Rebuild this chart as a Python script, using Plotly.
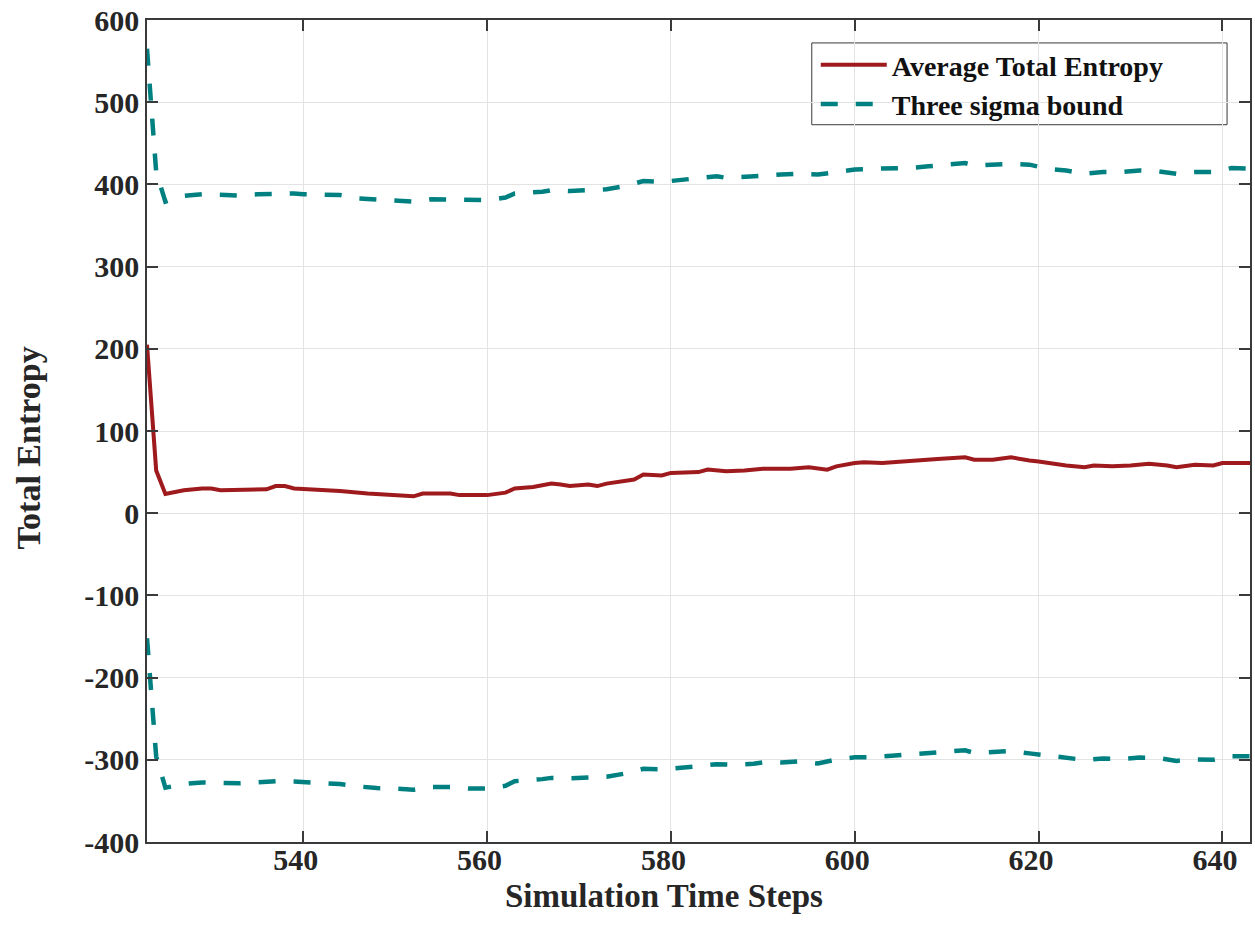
import plotly.graph_objects as go

# Average Total Entropy
mean_x = [523, 524, 525, 527, 529, 530, 531, 533, 536, 537, 538, 539, 541, 544, 547, 550, 552, 553, 556, 557,
          560, 562, 563, 565, 567, 568, 569, 571, 572, 573, 576, 577, 579, 580, 583, 584, 586, 588, 590, 593,
          595, 597, 598, 600, 601, 603, 605, 606, 607, 609, 612, 613, 615, 617, 619, 620, 623, 625, 626, 628,
          630, 632, 634, 635, 637, 639, 640, 643]
mean_y = [205, 52, 23.5, 28, 30, 30, 28, 28, 29, 33, 33, 30, 29, 27, 24, 22.5, 20.5, 24, 24, 22,
          22, 25, 30, 32, 36, 35, 33, 35, 33, 36, 41, 47, 46, 49, 50, 53, 51, 52, 54, 54,
          56, 53, 57, 61, 62, 61, 63, 63, 65, 66, 68, 65, 65, 68, 64, 63, 58, 56, 58, 57,
          58, 60, 58, 56, 59, 58, 61, 61]

# Three sigma bound (upper)
up_x = [523, 524, 525, 527, 529, 531, 533, 535, 537, 539, 540, 542, 544, 546, 548, 550, 552, 554, 556, 558,
        560, 562, 563, 566, 567, 569, 571, 573, 575, 577, 579, 581, 583, 585, 586, 589, 590, 592, 594, 596,
        598, 600, 602, 604, 606, 608, 610, 612, 613, 615, 617, 619, 621, 623, 625, 627, 629, 631, 633, 635,
        637, 639, 641, 643]
up_y = [565, 415, 379, 386, 388, 387, 386.5, 388, 389, 389, 388, 388, 387, 383, 382, 380, 379, 382, 382, 381,
        381, 384, 389, 391, 393, 392, 392.5, 394, 398, 404, 403, 405, 407, 410, 408, 410, 412, 412, 413, 412,
        415, 418, 419, 419, 420, 422, 423.5, 426, 423, 424, 425, 424, 419, 417, 413, 415, 415, 417, 416, 413,
        415, 415, 420, 419]

# Three sigma bound (lower)
lo_x = [523, 524, 525, 527, 529, 531, 533, 535, 537, 539, 541, 543, 544, 546, 548, 550, 552, 554, 556, 558,
        560, 562, 563, 566, 567, 569, 571, 573, 575, 577, 579, 581, 583, 585, 587, 589, 590, 592, 594, 596,
        598, 600, 602, 604, 606, 608, 610, 612, 613, 615, 617, 619, 621, 623, 625, 627, 629, 631, 633, 635,
        637, 639, 641, 643]
lo_y = [-152, -296, -334, -329.5, -327.5, -328, -328.5, -327.5, -326, -326.5, -327.5, -328.5, -329.5, -332.4,
        -334.4, -335, -336.5, -333, -333, -335, -335, -331.6, -326, -323.5, -322, -322.5, -322, -320.7, -316.7,
        -311, -311.6, -309, -307.7, -305.3, -306, -304.8, -303.3, -303.3, -302, -304.5, -299.6, -297, -296.7,
        -295, -293.6, -291.6, -290.3, -288.4, -291.6, -290.5, -289.3, -292.2, -294.6, -297.3, -300.2, -298.5,
        -298.9, -297.3, -297.6, -301.3, -299.6, -300, -295.6, -295.6]

x_ticks = [540, 560, 580, 600, 620, 640]
x_labels = ["540", "560", "580", "600", "620", "640"]
y_ticks = [-400, -300, -200, -100, 0, 100, 200, 300, 400, 500, 600]
y_labels = ["-400", "-300", "-200", "-100", "0", "100", "200", "300", "400", "500", "600"]

RED = "#9e1a1d"
TEAL = "#008080"
FONT = "Liberation Serif"
TXT = "#262626"
PAD = "\u00a0\u00a0"  # shifts centred x labels slightly left, as in the original

fig = go.Figure()
fig.add_trace(go.Scatter(x=mean_x, y=mean_y, mode="lines", name="Average Total Entropy",
                         line=dict(color=RED, width=4)))
fig.add_trace(go.Scatter(x=up_x, y=up_y, mode="lines", name="Three sigma bound",
                         line=dict(color=TEAL, width=4.5, dash="17px,18px")))
fig.add_trace(go.Scatter(x=lo_x, y=lo_y, mode="lines", name="Three sigma bound", showlegend=False,
                         line=dict(color=TEAL, width=4.5, dash="17px,18px")))

axis_common = dict(
    showgrid=True, gridcolor="#e3e3e3", gridwidth=1,
    showline=True, linecolor="#3a3a3a", linewidth=1.5, mirror="ticks",
    ticks="inside", ticklen=11, tickwidth=1.5, tickcolor="#3a3a3a",
    zeroline=False,
    tickfont=dict(family=FONT, size=30, color=TXT, weight="bold"),
)

fig.update_layout(
    width=1255, height=940,
    paper_bgcolor="white", plot_bgcolor="white",
    margin=dict(l=147, r=3, t=18, b=98),
    font=dict(family=FONT, weight="bold", color=TXT),
    xaxis=dict(range=[523, 643], tickvals=x_ticks, ticktext=[t + PAD for t in x_labels],
               ticklabelstandoff=-10, **axis_common),
    yaxis=dict(range=[-400, 600], tickvals=y_ticks, ticktext=y_labels, **axis_common),
    legend=dict(x=0.6063, y=0.9757, xanchor="left", yanchor="top",
                bgcolor="rgba(0,0,0,0)", borderwidth=0,
                font=dict(family=FONT, size=28, weight="bold", color="#111111"),
                tracegroupgap=0, itemwidth=66),
    showlegend=True,
    shapes=[dict(type="rect", xref="paper", yref="paper", x0=0.6027, x1=0.9792, y0=0.8726, y1=0.9721,
                 fillcolor="white", line=dict(color="#3a3a3a", width=1), layer="below")],
    annotations=[
        dict(text="Simulation Time Steps", xref="paper", yref="paper", x=0.469, y=-0.0655,
             xanchor="center", yanchor="middle", showarrow=False,
             font=dict(family=FONT, size=33, weight="bold", color=TXT)),
        dict(text="Total Entropy", xref="paper", yref="paper", x=-0.1077, y=0.479, textangle=-90,
             xanchor="center", yanchor="middle", showarrow=False,
             font=dict(family=FONT, size=34, weight="bold", color=TXT)),
    ],
)

fig.write_html("out.html", config={"displayModeBar": False},
               post_script="document.body.style.margin='0';")
